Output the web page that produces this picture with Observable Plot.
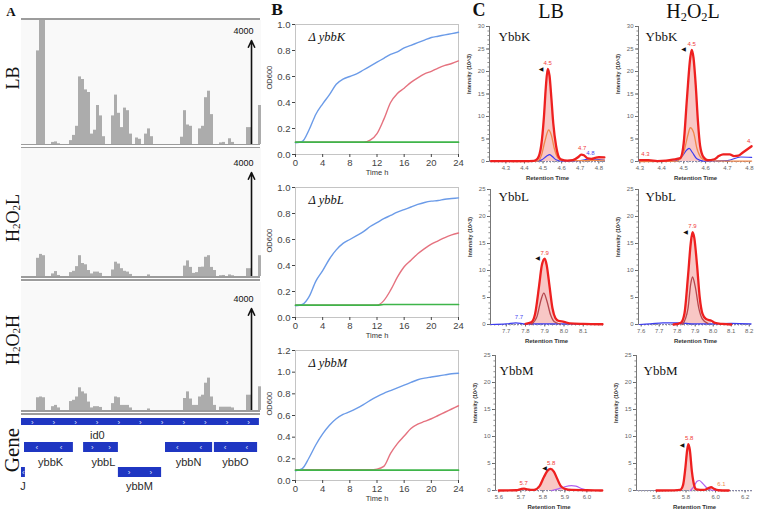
<!DOCTYPE html>
<html>
<head>
<meta charset="utf-8">
<script src="https://cdn.jsdelivr.net/npm/d3@7"></script>
<script src="https://cdn.jsdelivr.net/npm/@observablehq/plot@0.6"></script>
<style>
html,body{margin:0;padding:0;background:#fff;}
#root{position:relative;width:760px;height:512px;overflow:hidden;background:#fff;font-family:Arial,"Liberation Sans",sans-serif;}
.serif{font-family:"Liberation Serif","DejaVu Serif",Times,serif;color:#111;white-space:nowrap;line-height:1;}
.vlab{writing-mode:vertical-rl;transform:translate(-50%,-50%) rotate(180deg);}
.ctr{transform:translate(-50%,-50%);}
sub{font-size:0.62em;vertical-align:-0.25em;line-height:0;}
</style>
</head>
<body>
<div id="root"></div>
<script>
// ---------------- DATA ----------------
// Panel A: read coverage per genomic bin (80 bins across the window)
const trackBins = 80;
const covLB    = [0,0,0,0,0, 3600,5000,5000, 0,0, 80,100,30, 0,0,0, 150,350,700, 2600,2500,2100,2000, 400,550,1500,1100,300, 0,0, 1100,1900,1200,650,1400,1300,400, 0, 250,200, 0, 400,600,300, 0,0,0,0,0,0,0,0,0, 280,1300,750,700, 0,0, 600,700,1800,2050,1150, 0,0, 60,80,0,220,80, 0,0,0,0, 650,650, 0,0, 1500];
const covH2O2L = [0,0,0,0,0, 700,850,800, 0,0, 100,190,40, 0,0,0, 150,200,380, 800,500,450,230, 100,170,170,120,0, 0,0, 250,550,480,300,200,170,80, 0, 0,0, 0, 0,60,0, 0,0,0,0,0,0,0,0,0, 0,400,600,350, 120,150, 350,360,740,800,350, 230,0, 30,40,0,60,30, 0,0,0,0, 300,300, 0,0, 800];
const covH2O2H = [0,0,0,0,0, 500,530,500, 0,0, 150,200,100, 0,0,0, 350,400,530, 890,730,650,330, 100,150,150,120,0, 0,0, 270,530,500,200,200,200,100, 0, 0,0, 0, 0,60,0, 0,0,0,0,0,0,0,0,0, 0,470,730,450, 200,200, 530,600,1070,1270,530, 200,0, 130,130,130,130,100, 0,0,0,0, 600,600, 0,0, 930];
const scaleArrow = {bin: 76.67, value: 4000};

const geneNames  = ["id0","ybbK","ybbL","ybbM","ybbN","ybbO","J"];
const geneStart  = [0, 1, 20.7, 32.3, 48, 64.3, 0];
const geneEnd    = [79.3, 17.3, 32.3, 46.7, 63.7, 78.7, 1.3];
const geneRow    = [0, 1, 1, 2, 1, 1, 2];
const geneStrand = ["+","-","+","+","-","-","-"];
const geneLabelAt= [25.3, 9.7, 27.3, 39.3, 55.7, 71.3, 0.5];

// Panel B: OD600 growth curves (hourly)
const timeH = [0,1,2,3,4,5,6,7,8,9,10,11,12,13,14,15,16,17,18,19,20,21,22,23,24];
const kBlue  = [0.09,0.10,0.19,0.31,0.39,0.46,0.54,0.58,0.60,0.62,0.65,0.68,0.71,0.74,0.77,0.79,0.82,0.84,0.86,0.88,0.90,0.91,0.92,0.93,0.94];
const kRed   = [0.095,0.095,0.095,0.095,0.095,0.095,0.095,0.095,0.095,0.095,0.095,0.11,0.16,0.27,0.40,0.47,0.51,0.555,0.59,0.62,0.64,0.665,0.685,0.70,0.72];
const kGreen = [0.095,0.095,0.095,0.095,0.095,0.095,0.095,0.095,0.095,0.095,0.095,0.095,0.095,0.095,0.095,0.095,0.095,0.095,0.095,0.095,0.095,0.095,0.095,0.095,0.095];
const lBlue  = [0.09,0.10,0.16,0.28,0.36,0.45,0.52,0.57,0.60,0.63,0.66,0.70,0.73,0.76,0.785,0.81,0.83,0.85,0.87,0.885,0.895,0.90,0.91,0.915,0.92];
const lRed   = [0.095,0.095,0.095,0.095,0.095,0.095,0.095,0.095,0.095,0.095,0.095,0.095,0.095,0.13,0.21,0.31,0.39,0.44,0.49,0.53,0.565,0.59,0.615,0.635,0.65];
const lGreen = [0.095,0.095,0.095,0.095,0.095,0.095,0.095,0.095,0.095,0.095,0.095,0.095,0.095,0.1,0.1,0.1,0.1,0.1,0.1,0.1,0.1,0.1,0.1,0.1,0.1];
const mBlue  = [0.09,0.11,0.21,0.33,0.43,0.51,0.57,0.61,0.635,0.665,0.70,0.74,0.775,0.805,0.83,0.855,0.88,0.905,0.93,0.945,0.955,0.965,0.975,0.985,0.99];
const mRed   = [0.1,0.1,0.1,0.1,0.1,0.1,0.1,0.1,0.1,0.1,0.1,0.1,0.105,0.13,0.25,0.34,0.41,0.48,0.52,0.545,0.57,0.60,0.63,0.66,0.69];
const mGreen = [0.095,0.095,0.095,0.095,0.095,0.095,0.095,0.095,0.095,0.095,0.095,0.095,0.095,0.095,0.095,0.095,0.095,0.095,0.095,0.095,0.095,0.095,0.095,0.095,0.095];

// Panel C: extracted ion chromatograms [retention time, intensity (10^3)]
const kLB_red    = [[4.22,0.1],[4.33,0.1],[4.40,0.1],[4.45,0.15],[4.47,0.6],[4.49,3.5],[4.505,10],[4.515,16.5],[4.525,20.6],[4.535,19],[4.545,14],[4.555,8.5],[4.57,3.5],[4.585,1],[4.6,0.4],[4.63,0.2],[4.66,0.3],[4.69,1.0],[4.705,1.55],[4.72,1.4],[4.74,0.7],[4.76,0.6],[4.78,0.8],[4.8,0.95],[4.83,0.9]];
const kLB_orange = [[4.33,0],[4.47,0.1],[4.49,1.2],[4.51,4.5],[4.53,7.0],[4.545,5.8],[4.56,3],[4.58,0.8],[4.6,0.2],[4.7,0.2],[4.83,0.3]];
const kLB_blue   = [[4.35,0],[4.45,0],[4.49,0.3],[4.52,1.2],[4.535,1.55],[4.55,1.1],[4.57,0.4],[4.6,0.1],[4.7,0.2],[4.75,0.6],[4.78,0.5],[4.83,0.3]];
const kH_red     = [[4.30,0.3],[4.34,0.3],[4.38,0.1],[4.42,0.2],[4.45,0.4],[4.47,0.6],[4.485,0.8],[4.5,4],[4.515,14],[4.53,23],[4.537,24.8],[4.545,23],[4.555,17],[4.565,9],[4.575,3.5],[4.59,1],[4.61,0.3],[4.64,0.5],[4.66,1.2],[4.68,1.6],[4.71,1.6],[4.73,1.2],[4.75,1.3],[4.77,2],[4.81,3.4]];
const kH_orange  = [[4.3,0],[4.47,0.1],[4.5,2],[4.52,6],[4.53,7.5],[4.545,6.5],[4.56,3],[4.58,0.8],[4.6,0.2],[4.7,0.1],[4.81,0.1]];
const kH_blue    = [[4.3,0],[4.46,0.1],[4.49,1],[4.515,2.6],[4.525,2.9],[4.54,2],[4.56,0.6],[4.59,0.1],[4.7,0.2],[4.76,1.0],[4.81,0.9]];
const lLB_red    = [[7.8,0.1],[7.83,0.4],[7.85,2],[7.87,7],[7.885,11],[7.9,12.2],[7.91,11],[7.925,7],[7.94,3],[7.955,1.2],[7.97,0.7],[8.0,0.5],[8.03,0.2],[8.1,0.1],[8.2,0.05]];
const lLB_inner  = [[7.83,0],[7.86,1.5],[7.88,4.5],[7.895,5.8],[7.91,4.5],[7.93,1.8],[7.95,0.5],[7.98,0.1]];
const lLB_blue   = [[7.62,0],[7.7,0.1],[7.75,0.3],[7.8,0.1],[7.9,0.1],[8.0,0.1],[8.1,0.1],[8.2,0]];
const lH_red     = [[7.78,0],[7.82,0.3],[7.84,2],[7.86,9],[7.875,15],[7.885,17.1],[7.895,16],[7.91,11],[7.925,5],[7.94,2],[7.96,1],[7.99,0.7],[8.01,0.3],[8.05,0.1],[8.1,0]];
const lH_inner   = [[7.83,0],[7.86,3],[7.875,7.5],[7.885,8.8],[7.9,7],[7.92,3],[7.94,1],[7.97,0.2]];
const lH_blue    = [[7.59,0],[7.65,0.1],[7.72,0.3],[7.8,0.3],[7.9,0.1],[8.0,0.1],[8.1,0.2],[8.21,0.1]];
const mLB_red    = [[5.6,0],[5.68,0.05],[5.70,0.25],[5.715,0.35],[5.73,0.2],[5.76,0.1],[5.785,0.8],[5.805,2.5],[5.825,3.8],[5.835,4.0],[5.85,3.5],[5.865,2.2],[5.88,0.9],[5.9,0.3],[5.93,0.1],[6.0,0.05],[6.07,0]];
const mLB_purple = [[5.84,0],[5.87,0.3],[5.9,0.7],[5.93,0.9],[5.95,0.8],[5.98,0.3],[6.0,0.05]];
const mH_red     = [[5.6,0],[5.72,0.02],[5.76,0.1],[5.78,1],[5.795,4],[5.808,7.5],[5.816,8.6],[5.826,7.5],[5.84,3.5],[5.855,1],[5.87,0.2],[5.92,0.1],[5.95,0.4],[5.97,0.6],[5.99,0.3],[6.02,0.05],[6.09,0]];
const mH_purple  = [[5.83,0],[5.855,0.8],[5.875,1.7],[5.89,1.85],[5.91,1.4],[5.94,0.5],[5.97,0.1],[6.0,0]];

const kLB_labels = [{t:4.525,v:20.6,text:"4.5",c:"red"},{t:4.71,v:1.6,text:"4.7",c:"red"},{t:4.755,v:0.6,text:"4.8",c:"blue"}];
const kH_labels  = [{t:4.326,v:0.3,text:"4.3",c:"red"},{t:4.537,v:24.8,text:"4.5",c:"red"},{t:4.80,v:3.3,text:"4.",c:"red"}];
const lLB_labels = [{t:7.9,v:12.2,text:"7.9",c:"red"},{t:7.766,v:0.3,text:"7.7",c:"blue"}];
const lH_labels  = [{t:7.885,v:17.1,text:"7.9",c:"red"}];
const mLB_labels = [{t:5.713,v:0.35,text:"5.7",c:"red"},{t:5.838,v:4.0,text:"5.8",c:"red"}];
const mH_labels  = [{t:5.822,v:8.6,text:"5.8",c:"red"},{t:6.04,v:0.1,text:"6.1",c:"orange"}];
const peakMarks  = {kLB:[4.489,20.6], kH:[4.50,25], lLB:[7.862,12.3], lH:[7.846,17.2], mLB:[5.808,4.2], mH:[5.774,8.4]};

// ---------------- HELPERS ----------------
const root = document.getElementById("root");
function put(node, left, top){ node.style.position="absolute"; node.style.left=left+"px"; node.style.top=top+"px"; root.appendChild(node); return node; }
function html(s, left, top, cls, css){ const d=document.createElement("div"); d.innerHTML=s; d.className=cls||""; d.style.cssText=css||""; return put(d,left,top); }
function hline(x1,x2,y,th,color){ const d=document.createElement("div"); d.style.cssText=`width:${x2-x1}px;height:${th}px;background:${color};`; return put(d,x1,y); }
const SANS = "Arial, 'Liberation Sans', sans-serif";
const SERIF = "'Liberation Serif', 'DejaVu Serif', Times, serif";
const colorMap = {red:"#f03a3a", blue:"#4a4af0", orange:"#f08a4b"};

// ---------------- PANEL A ----------------
function coverageTrack(values, top, height, yTop){
  const bars = values.map((v,i)=>({i, v:Math.min(v,yTop)}));
  const svg = Plot.plot({
    width:240, height, margin:0,
    style:{background:"#f9f9f9", fontFamily:SANS, color:"#111"},
    x:{domain:[0,trackBins], axis:null}, y:{domain:[0,yTop], axis:null},
    marks:[
      Plot.rect(bars, {x1:"i", x2:d=>d.i+1, y1:0, y2:"v", fill:"#acacac"}),
      Plot.arrow([scaleArrow], {x1:"bin", x2:"bin", y1:0, y2:"value", stroke:"#111", strokeWidth:1.6, headLength:7, headAngle:50}),
      Plot.text([scaleArrow], {x:"bin", y:"value", text:d=>String(d.value), dy:-9, dx:-8, fontSize:9, fill:"#111"})
    ]
  });
  return put(svg, 21, top);
}
coverageTrack(covLB, 20, 124, 124/104*4000);
coverageTrack(covH2O2L, 148, 128, 128/104*4000);
coverageTrack(covH2O2H, 282, 128, 128/102*4000);

hline(21,260,18,2,"#9c9c9c");
hline(21,260,143.5,1.5,"#9c9c9c"); hline(21,260,146.5,1.5,"#9c9c9c");
hline(21,260,276,1.5,"#9c9c9c");   hline(21,260,279,1.5,"#9c9c9c");
hline(21,260,410,1.5,"#9c9c9c");   hline(21,260,413,1.5,"#9c9c9c");

// gene track
const genes = geneNames.map((name,i)=>({name, start:geneStart[i], end:geneEnd[i], row:geneRow[i], strand:geneStrand[i], lab:geneLabelAt[i]}));
const rowTop = [6,30,55], rowH = [7,10,10], rowLab = [23,50,74];
const chevrons = genes.flatMap(g=>{ const len=g.end-g.start; const n=Math.max(1,Math.round(len/7.3)); return d3.range(n).map(k=>({x:g.start+(k+0.5)*len/n, row:g.row, strand:g.strand})); });
put(Plot.plot({
  width:252, height:84, marginLeft:6, marginRight:6, marginTop:0, marginBottom:2,
  style:{background:"transparent", fontFamily:SANS},
  x:{domain:[0,trackBins], axis:null}, y:{domain:[0,82], range:[0,82], axis:null},
  marks:[
    Plot.rect(genes, {x1:"start", x2:"end", y1:d=>rowTop[d.row], y2:d=>rowTop[d.row]+rowH[d.row], fill:"#1f36c2"}),
    Plot.text(chevrons, {x:"x", y:d=>rowTop[d.row]+rowH[d.row]/2, text:d=>d.strand==="+"?"›":"‹", fill:"#dfe4ff", fontSize:8}),
    Plot.text(genes, {x:"lab", y:d=>rowLab[d.row], text:"name", fontSize:11, fill:"#2a2a2a"})
  ]
}), 15, 412);

// ---------------- PANEL B ----------------
const growthTicksX = [0,4,8,12,16,20,24];
function growth(top, title, blue, red, green, yMax, yTicks){
  const mL=46, mR=8, mT=6, mB=24, W=163, H=130;
  const pts = s => timeH.map((t,i)=>({t, v:s[i]}));
  const svg = Plot.plot({
    width:mL+W+mR, height:mT+H+mB, marginLeft:mL, marginRight:mR, marginTop:mT, marginBottom:mB,
    style:{background:"transparent", fontFamily:SANS, color:"#444"},
    x:{domain:[0,24]}, y:{domain:[0,yMax]},
    marks:[
      Plot.frame({stroke:"#c4c4c4"}),
      Plot.axisY({ticks:yTicks, tickFormat:d3.format(".1f"), tickSize:3, tickPadding:2, fontSize:9.5, label:null}),
      Plot.axisX({ticks:growthTicksX, tickSize:3, tickPadding:2, fontSize:9.5, label:null}),
      Plot.line(pts(red),   {x:"t", y:"v", stroke:"#e5727f", strokeWidth:1.4, curve:"monotone-x"}),
      Plot.line(pts(blue),  {x:"t", y:"v", stroke:"#6b9be8", strokeWidth:1.4, curve:"monotone-x"}),
      Plot.line(pts(green), {x:"t", y:"v", stroke:"#3fb54a", strokeWidth:1.7, curve:"monotone-x"}),
      Plot.text([title], {frameAnchor:"top-left", dx:13, dy:12, text:d=>d, textAnchor:"start", lineAnchor:"middle", fontSize:12.5, fontStyle:"italic", fontFamily:SERIF, fill:"#111"}),
      Plot.text(["OD600"], {frameAnchor:"left", dx:-26, rotate:-90, text:d=>d, fontSize:7.5, fill:"#333", lineAnchor:"middle"}),
      Plot.text(["Time h"], {frameAnchor:"bottom", dy:18, text:d=>d, fontSize:7.5, fill:"#333", lineAnchor:"middle"})
    ]
  });
  put(svg, 295-mL, top-mT);
}
growth(24,  "Δ ybbK", kBlue, kRed, kGreen, 1.0, [0,0.2,0.4,0.6,0.8,1.0]);
growth(187, "Δ ybbL", lBlue, lRed, lGreen, 1.0, [0,0.2,0.4,0.6,0.8,1.0]);
growth(350, "Δ ybbM", mBlue, mRed, mGreen, 1.2, [0,0.2,0.4,0.6,0.8,1.0,1.2]);

// ---------------- PANEL C ----------------
function chrom(c){
  const mL=52, mR=4, mT=6, mB=22, H=135;
  const lines = c.series.map(s=>Plot.line(s.data, {x:d=>d[0], y:d=>d[1], stroke:s.color, strokeWidth:s.w, curve:"monotone-x"}));
  const fillPts = c.series[c.series.length-1].data.filter(d=>d[0]>=c.fill[0] && d[0]<=c.fill[1]);
  const step = 0.02;
  const minorX = d3.range(Math.ceil(c.x[0]/step)*step, c.x[1]+1e-9, step);
  const minorY = d3.range(0, c.yMax+0.5, 1);
  const tx = (c.x[1]-c.x[0])*1.6/c.W, ty = c.yMax*1.6/H;
  const svg = Plot.plot({
    width:mL+c.W+mR, height:mT+H+mB, marginLeft:mL, marginRight:mR, marginTop:mT, marginBottom:mB,
    style:{background:"transparent", fontFamily:SANS, color:"#666"},
    x:{domain:c.x}, y:{domain:[0,c.yMax]},
    marks:[
      Plot.areaY(fillPts, {x:d=>d[0], y:d=>d[1], fill:"#f4a9a6", fillOpacity:0.65, curve:"monotone-x"}),
      Plot.axisY({ticks:d3.range(0,c.yMax+1,5), tickSize:3, tickPadding:2, fontSize:6, label:null}),
      Plot.ruleY(minorY, {x1:c.x[0], x2:c.x[0]-tx, stroke:"#777", strokeWidth:0.8}),
      Plot.axisX({ticks:c.ticks, tickSize:2.5, tickPadding:2, fontSize:6, tickFormat:d3.format(".1f"), label:null}),
      Plot.ruleX(minorX, {y1:0, y2:-ty, stroke:"#777", strokeWidth:0.8}),
      Plot.ruleX([c.x[0]], {y1:0, y2:c.yMax, stroke:"#777"}),
      Plot.ruleY([0], {stroke:"#8a8aa8", strokeDasharray:"2,1"}),
      ...lines,
      Plot.text(c.labels, {x:"t", y:"v", text:"text", fill:d=>colorMap[d.c], dy:-6, fontSize:6}),
      Plot.text([c.marker], {x:d=>d[0], y:d=>d[1], text:()=>"◀", fontSize:6, fill:"#111", fontFamily:"DejaVu Sans"}),
      Plot.text([c.title], {frameAnchor:"top-left", dx:c.tdx, dy:c.tdy, text:d=>d, textAnchor:"start", lineAnchor:"middle", fontSize:13, fontFamily:SERIF, fill:"#111"}),
      Plot.text(["Intensity (10^3)"], {frameAnchor:"left", dx:-20, rotate:-90, text:d=>d, fontSize:5.5, fontWeight:"bold", fill:"#333", lineAnchor:"middle"}),
      Plot.text(["Retention Time"], {frameAnchor:"bottom", dy:17, text:d=>d, fontSize:6, fontWeight:"bold", fill:"#333", lineAnchor:"middle"})
    ]
  });
  put(svg, c.axis-mL, c.top-mT);
}
const RED="#ee2020", ORANGE="#f0884a", BLUE="#3c3cf0", INNER="#b5474d", PURPLE="#b061f0";
chrom({axis:489, top:26, W:116, x:[4.212,4.836], yMax:30, ticks:[4.3,4.4,4.5,4.6,4.7,4.8], title:"YbbK", tdx:9, tdy:10,
  series:[{data:kLB_blue,color:BLUE,w:1.2},{data:kLB_orange,color:ORANGE,w:1.3},{data:kLB_red,color:RED,w:2.3}], fill:[4.47,4.6], labels:kLB_labels, marker:peakMarks.kLB});
chrom({axis:638, top:26, W:114, x:[4.294,4.814], yMax:30, ticks:[4.3,4.4,4.5,4.6,4.7,4.8], title:"YbbK", tdx:7, tdy:10,
  series:[{data:kH_blue,color:BLUE,w:1.2},{data:kH_orange,color:ORANGE,w:1.3},{data:kH_red,color:RED,w:2.3}], fill:[4.485,4.61], labels:kH_labels, marker:peakMarks.kH});
chrom({axis:490, top:189, W:112, x:[7.618,8.2], yMax:25, ticks:[7.7,7.8,7.9,8.0,8.1], title:"YbbL", tdx:8, tdy:7,
  series:[{data:lLB_blue,color:BLUE,w:1.2},{data:lLB_inner,color:INNER,w:1.3},{data:lLB_red,color:RED,w:2.3}], fill:[7.83,7.97], labels:lLB_labels, marker:peakMarks.lLB});
chrom({axis:638, top:189, W:114, x:[7.585,8.218], yMax:25, ticks:[7.6,7.7,7.8,7.9,8.0,8.1,8.2], title:"YbbL", tdx:7, tdy:7,
  series:[{data:lH_blue,color:BLUE,w:1.2},{data:lH_inner,color:INNER,w:1.3},{data:lH_red,color:RED,w:2.3}], fill:[7.82,7.99], labels:lH_labels, marker:peakMarks.lH});
chrom({axis:495, top:355, W:107, x:[5.585,6.071], yMax:25, ticks:[5.6,5.7,5.8,5.9,6.0], title:"YbbM", tdx:4, tdy:15,
  series:[{data:mLB_purple,color:PURPLE,w:1.2},{data:mLB_red,color:RED,w:2.3}], fill:[5.785,5.9], labels:mLB_labels, marker:peakMarks.mLB});
chrom({axis:636, top:355, W:116, x:[5.465,6.25], yMax:25, ticks:[5.6,5.8,6.0,6.2], title:"YbbM", tdx:7, tdy:15,
  series:[{data:mH_purple,color:PURPLE,w:1.2},{data:mH_red,color:RED,w:2.3}], fill:[5.77,5.87], labels:mH_labels, marker:peakMarks.mH});

// ---------------- TEXT LABELS ----------------
html("A", 11, 11, "serif ctr", "font-size:13px;font-weight:bold;");
html("B", 277, 9.5, "serif ctr", "font-size:17.5px;font-weight:bold;");
html("C", 479, 10, "serif ctr", "font-size:18px;font-weight:bold;");
html("LB", 551, 11, "serif ctr", "font-size:20px;");
html("H<sub>2</sub>O<sub>2</sub>L", 693, 11, "serif ctr", "font-size:20px;");
html("LB", 12.5, 78, "serif vlab", "font-size:18px;");
html("H<sub>2</sub>O<sub>2</sub>L", 12.5, 218, "serif vlab", "font-size:18px;");
html("H<sub>2</sub>O<sub>2</sub>H", 12.5, 340, "serif vlab", "font-size:18px;");
html("Gene", 11.5, 450, "serif vlab", "font-size:21px;");
</script>
</body>
</html>
